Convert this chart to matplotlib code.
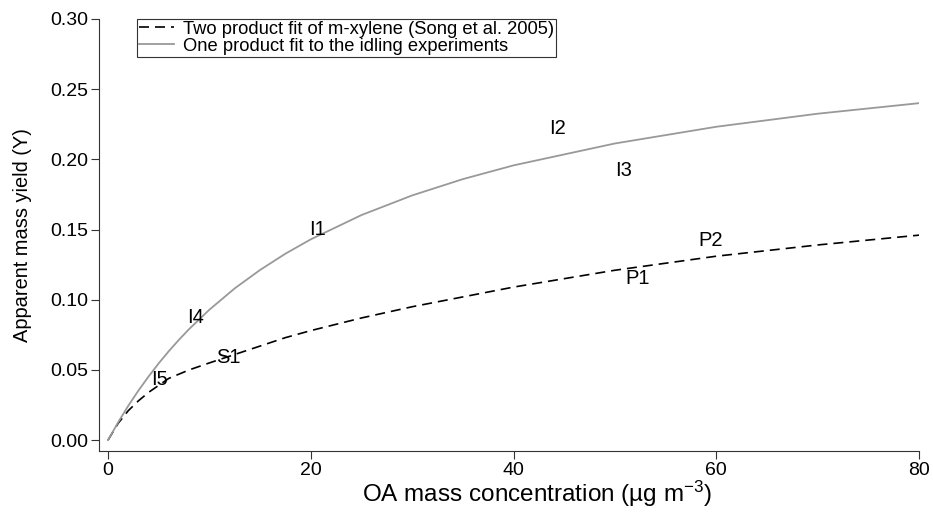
import matplotlib
matplotlib.use("Agg")
import matplotlib.pyplot as plt

plt.rcParams['font.family'] = ['Liberation Sans', 'DejaVu Sans']
plt.rcParams['mathtext.fontset'] = 'custom'
plt.rcParams['mathtext.rm'] = 'Liberation Sans'
plt.rcParams['mathtext.it'] = 'Liberation Sans'

# OA mass concentration (ug m-3) at which the curves were read
oa_conc = [0, 1, 2, 3, 4, 5, 6, 7, 8, 10, 12.5, 15, 17.5, 20, 25, 30, 35, 40,
           50, 60, 70, 80]
# one product fit to the idling experiments
yield_one = [0.0, 0.0127, 0.0245, 0.0353, 0.0453, 0.0547, 0.0634, 0.0715, 0.0791,
             0.0929, 0.1081, 0.1212, 0.1328, 0.1430, 0.1603, 0.1743, 0.1859,
             0.1957, 0.2113, 0.2232, 0.2325, 0.2400]
# two product fit of m-xylene
yield_two = [0.0, 0.012, 0.021, 0.028, 0.034, 0.039, 0.044, 0.047, 0.050, 0.055,
             0.061, 0.067, 0.073, 0.078, 0.087, 0.095, 0.102, 0.109, 0.121,
             0.131, 0.139, 0.146]

# experiment labels
exp_names = ['I1', 'I2', 'I3', 'I4', 'I5', 'S1', 'P1', 'P2']
exp_x = [20.7, 44.3, 50.9, 8.6, 5.1, 11.9, 52.2, 59.4]
exp_y = [0.150, 0.222, 0.192, 0.087, 0.043, 0.059, 0.115, 0.142]

fig = plt.figure(figsize=(9.33, 5.12), dpi=100)
ax = fig.add_axes([0.106, 0.119, 0.879, 0.844])

ax.plot(oa_conc, yield_two, color='black', linestyle=(0, (6, 3.6)), linewidth=1.2,
        label='Two product fit of m-xylene (Song et al. 2005)')
ax.plot(oa_conc, yield_one, color='#999999', linewidth=1.3,
        label='One product fit to the idling experiments')

for name, x, y in zip(exp_names, exp_x, exp_y):
    ax.text(x, y, name, ha='center', va='center', fontsize=14.5)

ax.set_xlim(-0.9, 80)
ax.set_ylim(-0.0078, 0.30)
ax.set_xticks([0, 20, 40, 60, 80])
ax.set_yticks([0.0, 0.05, 0.10, 0.15, 0.20, 0.25, 0.30])
ax.set_yticklabels(['0.00', '0.05', '0.10', '0.15', '0.20', '0.25', '0.30'])
ax.spines['top'].set_visible(False)
ax.spines['right'].set_visible(False)
ax.spines['left'].set_color('#333333')
ax.spines['bottom'].set_color('#333333')
ax.tick_params(direction='out', length=6, width=0.8, labelsize=14, pad=2,
               color='#333333')

ax.set_xlabel(r'OA mass concentration (µg m$^{-3}$)', fontsize=17.5, labelpad=0)
ax.xaxis.label.set_x(0.534)
ax.set_ylabel('Apparent mass yield (Y)', fontsize=14.4, labelpad=13)

leg = ax.legend(loc='upper left', bbox_to_anchor=(0.047, 1.0), fontsize=13.2,
                frameon=True, fancybox=False, framealpha=1, edgecolor='#333333',
                handlelength=1.9, handletextpad=0.5, borderpad=0.1,
                labelspacing=0.0, borderaxespad=0)
leg.get_frame().set_linewidth(0.8)

fig.savefig('out.png', dpi=100)
